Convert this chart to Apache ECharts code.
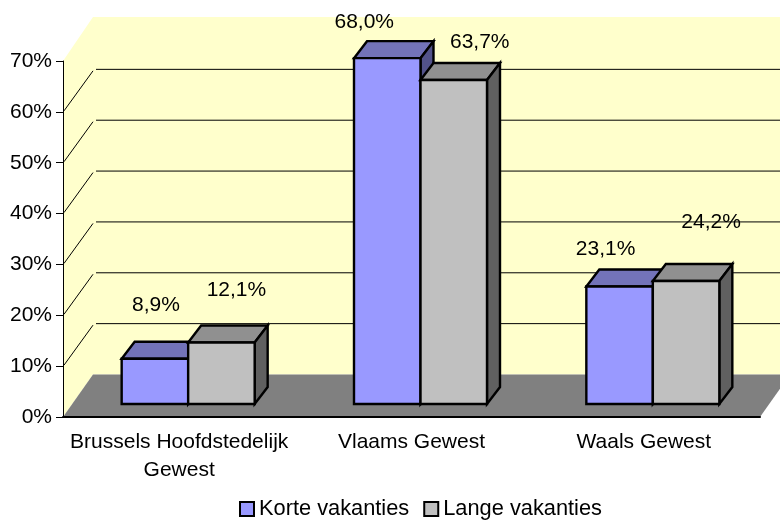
<!DOCTYPE html>
<html>
<head>
<meta charset="utf-8">
<style>
  html, body { margin: 0; padding: 0; background: #fff; }
  #chart { width: 780px; height: 520px; }
</style>
<script src="https://cdn.jsdelivr.net/npm/echarts@6/dist/echarts.min.js"></script>
</head>
<body>
<div id="chart"></div>
<script>
  const categories = ['Brussels Hoofdstedelijk\nGewest', 'Vlaams Gewest', 'Waals Gewest']
  const korte = [8.9, 68.0, 23.1]
  const lange = [12.1, 63.7, 24.2]
  const gridValues = [10, 20, 30, 40, 50, 60]

  // the value labels were dragged by hand in the original, [dx, dy] from the bar's top centre
  const korteLabelShift = [[1, -54], [-23, -36], [-14, -37]]
  const langeLabelShift = [[15, -52], [26, -38], [25, -59]]

  const FONT = '"Liberation Sans", Arial, sans-serif'
  const WALL_DX = 30, WALL_DY = -42.5
  const BAR_W = 66.5, BAR_DX = 13, BAR_DY = -17
  const BAR_SHIFT_X = 9, BAR_SHIFT_Y = -13

  function poly(points, fill, stroke) {
    return {
      type: 'polygon',
      shape: { points: points },
      style: { fill: fill, stroke: stroke || null, lineWidth: 2.4, lineJoin: 'miter' }
    }
  }

  function renderWalls(params, api) {
    const c = params.coordSys
    const bottom = c.y + c.height
    const right = c.x + c.width
    const far = right + WALL_DX
    const backX = c.x + WALL_DX
    const backBottom = bottom + WALL_DY
    const backTop = c.y + WALL_DY - 1.5
    const y = api.coord([0, api.value(0)])[1]
    const children = []
    if (params.dataIndex === 0) {
      children.push(poly([[c.x, c.y], [backX, backTop], [far, backTop], [far, backBottom], [backX, backBottom], [c.x, bottom]], '#FFFFCC'))
      children.push(poly([[c.x, bottom], [backX, backBottom], [far, backBottom], [right, bottom]], '#808080'))
    }
    children.push({
      type: 'line',
      shape: { x1: c.x + 1, y1: y - 1, x2: backX, y2: y + WALL_DY + 1.5 },
      style: { stroke: '#000', lineWidth: 1 }
    })
    children.push({
      type: 'line',
      shape: { x1: backX + 3, y1: y + WALL_DY, x2: far, y2: y + WALL_DY },
      style: { stroke: '#000', lineWidth: 1 }
    })
    return { type: 'group', children: children }
  }

  function barRenderer(offset, front, top, side, shifts) {
    return function (params, api) {
      const p = api.coord([api.value(0), api.value(1)])
      const base = api.coord([api.value(0), 0])
      const x0 = p[0] + BAR_SHIFT_X + offset * BAR_W
      const x1 = x0 + BAR_W
      const yTop = p[1] + BAR_SHIFT_Y
      const yBase = base[1] + BAR_SHIFT_Y
      const shift = shifts[params.dataIndex]
      return {
        type: 'group',
        children: [
          poly([[x0, yTop], [x0 + BAR_DX, yTop + BAR_DY], [x1 + BAR_DX, yTop + BAR_DY], [x1, yTop]], top, '#000'),
          poly([[x1, yTop], [x1 + BAR_DX, yTop + BAR_DY], [x1 + BAR_DX, yBase + BAR_DY], [x1, yBase]], side, '#000'),
          poly([[x0, yTop], [x1, yTop], [x1, yBase], [x0, yBase]], front, '#000'),
          {
            type: 'text',
            z2: 10,
            style: {
              x: (x0 + x1) / 2 + shift[0],
              y: yTop + shift[1],
              text: api.value(1).toFixed(1).replace('.', ',') + '%',
              fill: '#000',
              font: '21px ' + FONT,
              align: 'center',
              verticalAlign: 'middle'
            }
          }
        ]
      }
    }
  }

  const chart = echarts.init(document.getElementById('chart'))
  chart.setOption({
    animation: false,
    backgroundColor: '#fff',
    textStyle: { fontFamily: FONT },
    grid: { left: 63, top: 61, width: 697, height: 356 },
    legend: {
      left: 234,
      top: 493,
      icon: 'rect',
      itemWidth: 14,
      itemHeight: 14,
      itemGap: 14,
      selectedMode: false,
      textStyle: { fontFamily: FONT, fontSize: 21.8, color: '#000' },
      data: [
        { name: 'Korte vakanties', itemStyle: { color: '#9999FF', borderColor: '#000', borderWidth: 2 } },
        { name: 'Lange vakanties', itemStyle: { color: '#C0C0C0', borderColor: '#000', borderWidth: 2 } }
      ]
    },
    xAxis: {
      type: 'category',
      data: categories,
      z: 1,
      axisLine: { lineStyle: { color: '#000', width: 2 } },
      axisTick: { length: 6, lineStyle: { color: '#000', width: 1 } },
      axisLabel: { interval: 0, color: '#000', fontFamily: FONT, fontSize: 21, lineHeight: 28, margin: 11 },
      splitLine: { show: false }
    },
    yAxis: {
      type: 'value',
      min: 0,
      max: 70,
      interval: 10,
      z: 1,
      axisLine: { show: true, lineStyle: { color: '#000', width: 1 } },
      axisTick: { show: true, length: 7, lineStyle: { color: '#000', width: 1 } },
      axisLabel: { color: '#000', fontFamily: FONT, fontSize: 21, margin: 11, formatter: '{value}%' },
      splitLine: { show: false }
    },
    series: [
      {
        name: 'walls',
        type: 'custom',
        z: 0,
        silent: true,
        renderItem: renderWalls,
        encode: { y: 0 },
        data: gridValues.map(v => [v])
      },
      {
        name: 'Korte vakanties',
        type: 'custom',
        z: 2,
        itemStyle: { color: '#9999FF' },
        renderItem: barRenderer(-1, '#9999FF', '#7373B9', '#53538A', korteLabelShift),
        encode: { x: 0, y: 1 },
        data: korte.map((v, i) => [i, v])
      },
      {
        name: 'Lange vakanties',
        type: 'custom',
        z: 3,
        itemStyle: { color: '#C0C0C0' },
        renderItem: barRenderer(0, '#C0C0C0', '#909090', '#606060', langeLabelShift),
        encode: { x: 0, y: 1 },
        data: lange.map((v, i) => [i, v])
      }
    ]
  })
</script>
</body>
</html>
